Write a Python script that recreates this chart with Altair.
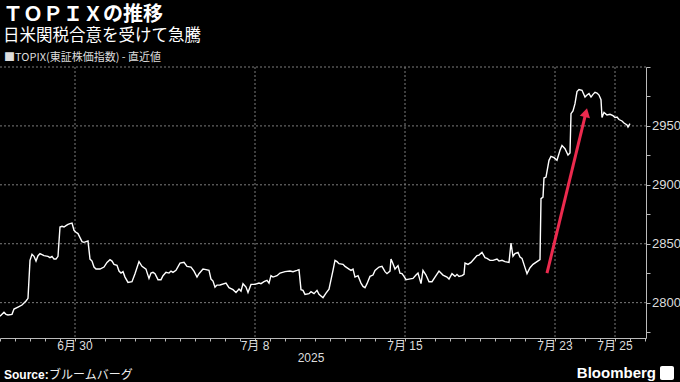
import altair as alt
import pandas as pd
import math

# Time axis: 10-minute trading bars, 30 bars per trading day (6/26 open = bar 0)
bar = [0, 4, 6, 8, 12, 14, 18, 22, 26, 28, 30, 32, 34, 36, 38, 40, 44, 48, 50, 52, 54, 56, 58,
       60, 62, 64, 66, 68, 70, 72, 74, 76, 78, 80, 82, 84, 86, 88, 90, 92, 94, 96, 100, 104, 107,
       110, 112, 114, 117, 119, 121, 123, 125, 128, 132, 135, 139, 142, 146, 147, 149, 151, 153,
       155, 158, 161, 163, 166, 169, 171, 173, 176, 180, 184, 187, 191, 194, 197, 199, 203, 206,
       209, 211, 213, 215, 217, 220, 226, 229, 233, 236, 239, 241, 243, 246, 248, 251, 255, 259,
       261, 264, 267, 269, 271, 273, 277, 280, 285, 290, 293, 297, 299, 301, 303, 305, 309, 311,
       314, 317, 319, 323, 326, 329, 330, 333, 335, 337, 339, 343, 345, 349, 351, 353, 355, 358,
       361, 363, 365, 367, 370, 373, 375, 379, 382, 385, 387, 390, 391, 393, 395, 398, 400, 402,
       404, 406, 409, 413, 416, 418, 421, 423, 426, 429, 432, 435, 439, 443, 447, 449, 452, 455,
       457, 459, 462, 464, 465, 468, 471, 474, 477, 479, 482, 485, 487, 490, 493, 497, 499, 502,
       505, 509, 511, 513, 515, 518, 520, 522, 525, 527, 530, 533, 537, 540, 541, 543, 544, 546,
       549, 551, 554, 557, 560, 562, 565, 568, 570, 571, 573, 575, 577, 579, 582, 585, 587, 589,
       591, 593, 595, 597, 599, 601, 602, 604, 607, 610, 613, 615, 617, 619, 622, 624, 627, 628, 630]
topix = [2788.4, 2791.8, 2790.1, 2789.5, 2790.1, 2794.6, 2796.3, 2798.0, 2801.4, 2803.7, 2835.9,
         2841.0, 2839.3, 2835.3, 2839.9, 2841.6, 2839.9, 2839.3, 2838.2, 2839.3, 2837.0, 2837.0,
         2839.3, 2864.2, 2864.8, 2864.2, 2865.4, 2866.5, 2867.1, 2867.6, 2861.4, 2859.7, 2858.6,
         2855.2, 2851.8, 2851.2, 2851.8, 2852.3, 2837.0, 2835.3, 2830.2, 2828.5, 2828.5, 2830.2,
         2834.2, 2836.5, 2835.3, 2832.5, 2831.7, 2826.8, 2825.1, 2826.3, 2821.7, 2817.2, 2817.8,
         2824.6, 2834.8, 2830.8, 2828.5, 2825.7, 2820.6, 2825.1, 2825.7, 2824.6, 2819.5, 2819.5,
         2822.9, 2825.7, 2825.1, 2826.8, 2825.7, 2827.4, 2833.6, 2834.2, 2830.8, 2830.2, 2826.8,
         2821.7, 2824.6, 2828.5, 2828.0, 2827.4, 2820.0, 2818.3, 2813.2, 2814.9, 2815.0, 2816.6,
         2812.7, 2811.0, 2808.7, 2811.5, 2809.8, 2816.1, 2813.2, 2808.7, 2815.5, 2815.5, 2816.6,
         2816.1, 2817.8, 2818.9, 2816.6, 2822.9, 2821.7, 2822.9, 2825.1, 2826.3, 2826.8, 2826.3,
         2827.4, 2828.0, 2811.0, 2810.4, 2807.0, 2807.6, 2809.3, 2807.6, 2810.4, 2807.0, 2804.2,
         2808.1, 2811.5, 2815.5, 2827.4, 2835.9, 2834.8, 2833.1, 2832.5, 2830.8, 2828.5, 2827.4,
         2828.5, 2821.7, 2822.9, 2816.6, 2813.8, 2812.7, 2816.1, 2822.3, 2823.4, 2827.4, 2830.2,
         2830.8, 2826.3, 2824.6, 2826.8, 2837.0, 2833.1, 2828.5, 2831.4, 2825.1, 2824.6, 2822.3,
         2819.5, 2820.0, 2820.6, 2823.4, 2825.1, 2816.1, 2827.4, 2823.4, 2817.8, 2817.8, 2821.7,
         2826.8, 2823.4, 2821.7, 2820.0, 2824.6, 2822.3, 2824.0, 2822.3, 2822.9, 2824.0, 2833.6,
         2832.5, 2834.2, 2837.0, 2839.9, 2840.4, 2842.7, 2838.2, 2837.6, 2835.9, 2835.9, 2837.0,
         2835.3, 2835.9, 2834.8, 2834.2, 2850.6, 2839.3, 2841.6, 2842.7, 2838.7, 2837.6, 2829.7,
         2824.6, 2829.7, 2832.5, 2834.8, 2836.5, 2888.3, 2889.6, 2905.8, 2906.6, 2920.8, 2924.2,
         2923.1, 2920.8, 2929.3, 2933.3, 2930.7, 2925.3, 2927.0, 2960.4, 2962.7, 2968.9, 2979.1,
         2980.8, 2980.2, 2974.5, 2976.2, 2977.4, 2974.5, 2976.8, 2978.5, 2977.9, 2976.2, 2972.3,
         2957.1, 2961.5, 2959.3, 2959.9, 2958.7, 2957.1, 2957.6, 2955.4, 2954.2, 2952.5, 2950.8,
         2949.1, 2952.0]

date_bars = [75, 255, 405, 555, 615]
date_labels = ["6月 30", "7月 8", "7月 15", "7月 23", "7月 25"]
x_tick_bars = list(range(0, 646, 15))
y_grid = [2800, 2850, 2900, 2950, 3000]
y_label_vals = [2800, 2850, 2900, 2950]
y_ticks = [2775, 2800, 2825, 2850, 2875, 2900, 2925, 2950, 2975, 3000]

arrow_bar = [547, 587]
arrow_val = [2825, 2965]

title_text = ["ＴＯＰＩＸの推移"]
subtitle_text = ["日米関税合意を受けて急騰"]
legend_text = ["■TOPIX(東証株価指数) - 直近値"]
year_text = ["2025"]
source_head = ["Source:"]
source_body = ["ブルームバーグ"]
brand_text = ["Bloomberg"]

W, H = 646, 271
X_DOM = [0, 646]
Y_DOM = [2770, 3000]
CJK = "Noto Sans CJK JP"
NUM = "Liberation Sans Narrow, Liberation Sans, Noto Sans CJK JP"
RED = "#ec2a4e"
AXC = "#bbbbbb"
LABC = "#dddddd"
GRIDC = "#7c7c7c"

xs = alt.Scale(domain=X_DOM, nice=False, zero=False)
ys = alt.Scale(domain=Y_DOM, nice=False, zero=False)

x_axis = alt.Axis(values=x_tick_bars, labels=False, grid=False, title=None, tickSize=3,
                  domainColor=AXC, tickColor=AXC)
y_axis = alt.Axis(orient="right", values=y_ticks, labels=False, grid=False, title=None,
                  tickSize=4, domainColor=AXC, tickColor=AXC)


def X(field):
    return alt.X(field, scale=xs, axis=x_axis, title=None)


def Y(field):
    return alt.Y(field, scale=ys, axis=y_axis, title=None)


df = pd.DataFrame({"bar": bar, "topix": topix})

line = alt.Chart(df).mark_line(color="#ffffff", strokeWidth=1.4).encode(
    x=X("bar:Q"), y=Y("topix:Q")
)
hgrid = alt.Chart(pd.DataFrame({"v": y_grid})).mark_rule(
    color=GRIDC, strokeDash=[2, 2], strokeWidth=1
).encode(y=Y("v:Q"))
vgrid = alt.Chart(pd.DataFrame({"b": date_bars})).mark_rule(
    color=GRIDC, strokeDash=[2, 2], strokeWidth=1
).encode(x=X("b:Q"))

# tick labels as text marks positioned through the scales
xlab = alt.Chart(pd.DataFrame({"b": date_bars, "lab": date_labels})).mark_text(
    align="center", baseline="top", fontSize=12, font=NUM, color=LABC
).encode(x=X("b:Q"), y=alt.value(H + 3), text="lab:N")
ylab = alt.Chart(pd.DataFrame({"v": y_label_vals})).mark_text(
    align="left", baseline="middle", fontSize=13, font=NUM, color=LABC
).encode(y=Y("v:Q"), x=alt.value(W + 6), text=alt.Text("v:Q", format="d"))

# arrow annotation
px_per_bar = W / (X_DOM[1] - X_DOM[0])
px_per_val = H / (Y_DOM[1] - Y_DOM[0])
dxp = (arrow_bar[1] - arrow_bar[0]) * px_per_bar
dyp = (arrow_val[1] - arrow_val[0]) * px_per_val
L = math.hypot(dxp, dyp)
back = 4.5
head_bar = arrow_bar[1] - back * dxp / L / px_per_bar
head_val = arrow_val[1] - back * dyp / L / px_per_val
angle = math.degrees(math.atan2(dxp, dyp))

shaft = alt.Chart(pd.DataFrame({"b": [arrow_bar[0]], "v": [arrow_val[0]],
                                "b2": [head_bar], "v2": [head_val]})).mark_rule(
    color=RED, strokeWidth=3
).encode(x=X("b:Q"), y=Y("v:Q"), x2="b2:Q", y2="v2:Q")
head = alt.Chart(pd.DataFrame({"b": [head_bar], "v": [head_val]})).mark_point(
    shape="triangle-up", filled=True, color=RED, opacity=1, size=110, angle=angle
).encode(x=X("b:Q"), y=Y("v:Q"))


def txt(values, x, y, size, color="#ffffff", weight="normal", font=CJK, align="left"):
    return alt.Chart(pd.DataFrame({"t": values})).mark_text(
        align=align, baseline="middle", fontSize=size, fontWeight=weight, font=font,
        color=color
    ).encode(text="t:N", x=alt.value(x), y=alt.value(y))


texts = [
    txt(title_text, 3, -52, 20, weight="bold"),
    txt(subtitle_text, 3, -31, 16.5),
    txt(legend_text, 4, -9, 11, color=LABC),
    txt(year_text, 311, 291, 12, color=LABC, font=NUM, align="center"),
    txt(source_head, 4, 308, 12, weight="bold", font="Liberation Sans Narrow, Liberation Sans"),
    txt(source_body, 49, 308, 12, color="#eeeeee"),
    txt(brand_text, 656, 306, 15, weight="bold", font="Liberation Sans Narrow, Liberation Sans",
        align="right"),
]
logo = alt.Chart(pd.DataFrame({"k": [1]})).mark_rect(color="#ffffff", cornerRadius=2).encode(
    x=alt.value(660), x2=alt.value(674), y=alt.value(299), y2=alt.value(313)
)

chart = alt.layer(hgrid, vgrid, line, xlab, ylab, shaft, head, *texts, logo).properties(
    width=W, height=H,
    padding={"left": 0, "top": 67, "right": 34, "bottom": 44},
    autosize=alt.AutoSizeParams(type="none"),
    background="#000000",
).configure_view(stroke=None)

chart.save("out.html", embed_options={"renderer": "svg", "actions": False})
